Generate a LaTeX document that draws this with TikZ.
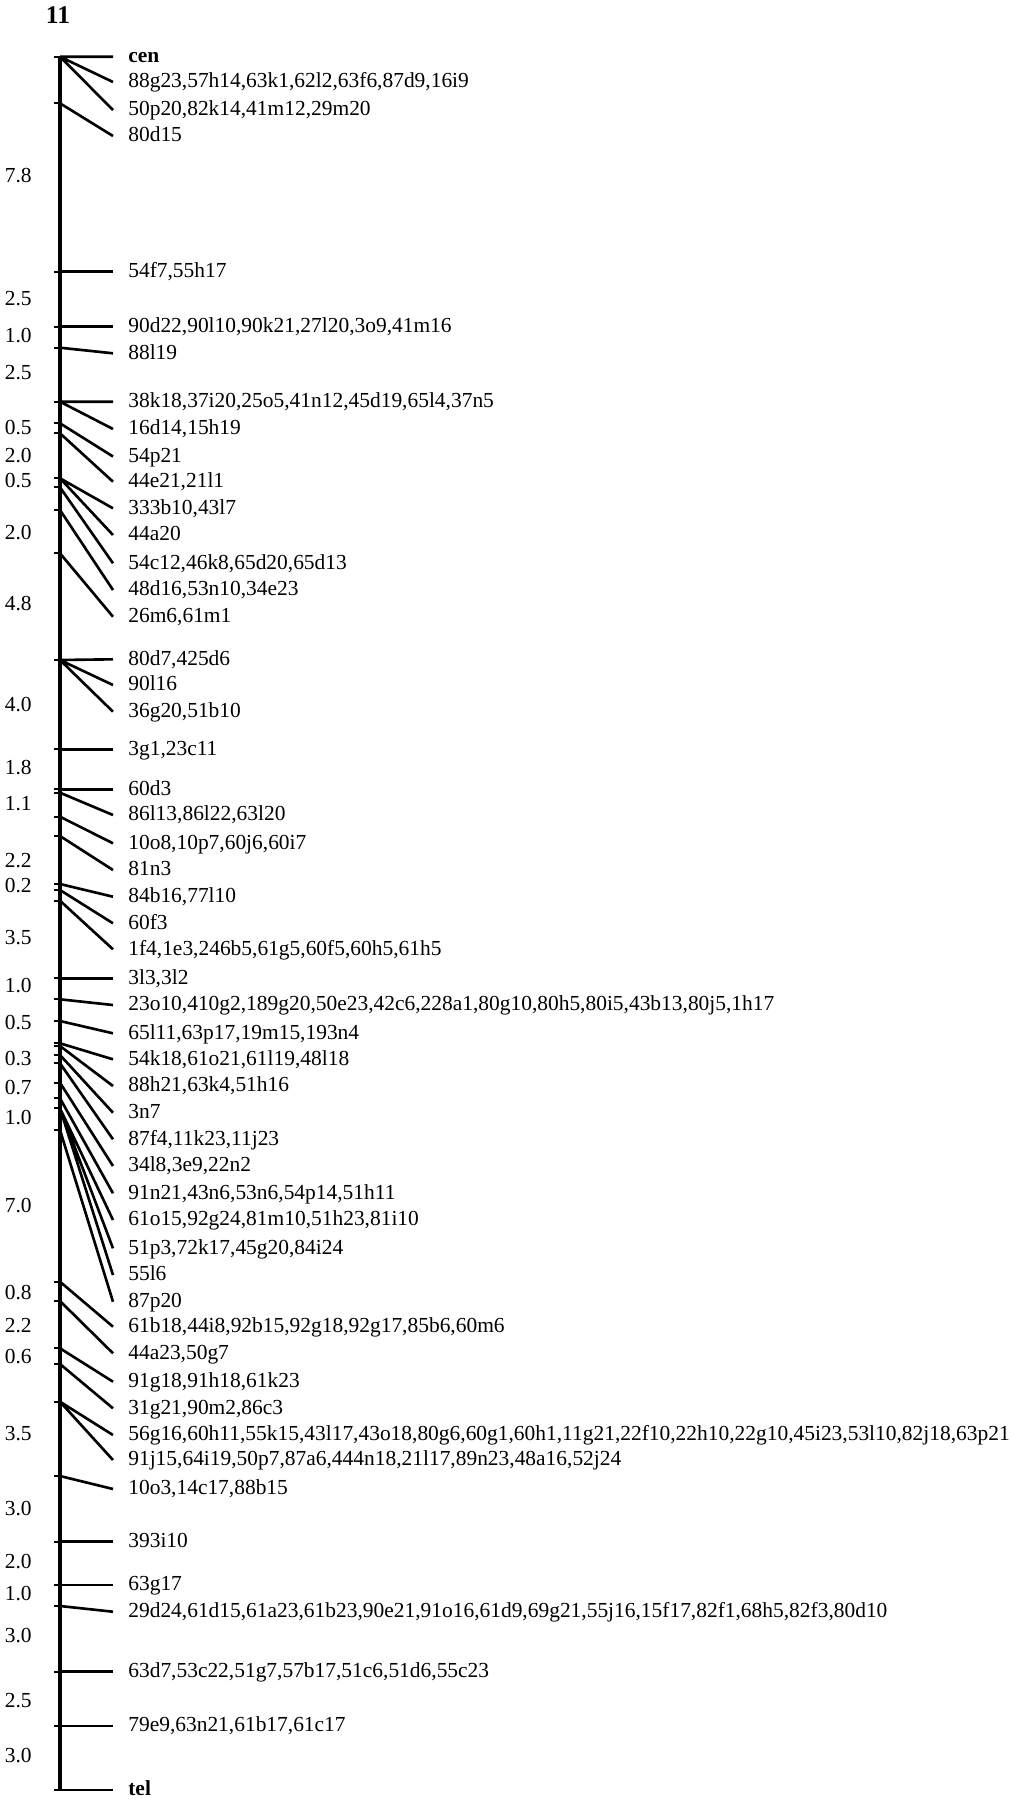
\documentclass[tikz,border=0pt]{standalone}
\usepackage{fontspec}
\setmainfont{Liberation Serif}
\newcommand{\mapfont}{\fontsize{12.2}{14}\selectfont}
\tikzset{
  every picture/.style={line join=round},
  locus/.style={anchor=west, inner xsep=0.3cm, inner ysep=0pt, text height=0.68em, text depth=0pt, font=\mapfont},
  dist/.style={anchor=east, inner sep=0pt, text height=0.68em, text depth=0pt, font=\mapfont},
  link/.style={line width=1.5pt},
  stub/.style={line width=1.2pt},
  chromo/.style={line width=2.4pt},
}

\begin{document}
\begin{tikzpicture}[x=0.02cm,y=-0.02cm]
\useasboundingbox (0,0) rectangle (1025,1800);
\node[font=\bfseries\fontsize{14.5}{16}\selectfont, inner sep=0pt] (chr) at (58,15) {11};
% marker positions on the chromosome
\coordinate (k1) at (60,56.7);
\coordinate (k2) at (60,103.3);
\coordinate (k3) at (60,271.7);
\coordinate (k4) at (60,326.7);
\coordinate (k5) at (60,347.7);
\coordinate (k6) at (60,401.7);
\coordinate (k7) at (60,423.3);
\coordinate (k8) at (60,433.3);
\coordinate (k9) at (60,478.3);
\coordinate (k10) at (60,487.3);
\coordinate (k11) at (60,510);
\coordinate (k12) at (60,553.3);
\coordinate (k13) at (60,660);
\coordinate (k14) at (60,749.3);
\coordinate (k15) at (60,789.3);
\coordinate (k16) at (60,792.7);
\coordinate (k17) at (60,816.7);
\coordinate (k18) at (60,836);
\coordinate (k19) at (60,884);
\coordinate (k20) at (60,890);
\coordinate (k21) at (60,900.7);
\coordinate (k22) at (60,978.3);
\coordinate (k23) at (60,999.3);
\coordinate (k24) at (60,1021);
\coordinate (k25) at (60,1043.3);
\coordinate (k26) at (60,1046);
\coordinate (k27) at (60,1055);
\coordinate (k28) at (60,1063.3);
\coordinate (k29) at (60,1082.7);
\coordinate (k30) at (60,1098.3);
\coordinate (k31) at (60,1108.3);
\coordinate (k32) at (60,1130);
\coordinate (k33) at (60,1281.7);
\coordinate (k34) at (60,1301);
\coordinate (k35) at (60,1348.3);
\coordinate (k36) at (60,1364);
\coordinate (k37) at (60,1401.7);
\coordinate (k38) at (60,1476);
\coordinate (k39) at (60,1541.7);
\coordinate (k40) at (60,1585);
\coordinate (k41) at (60,1606);
\coordinate (k42) at (60,1671.7);
\coordinate (k43) at (60,1726);
\coordinate (k44) at (60,1790);
\draw[chromo] (k1) -- (k44);
\foreach \k in {1,...,44} \draw[stub] (k\k) -- ++(-6,0);
% loci
\node[locus,font=\bfseries\mapfont] (cen) at (113,56.7) {cen};
\node[locus] (l88g23) at (113,82) {88g23,57h14,63k1,62l2,63f6,87d9,16i9};
\node[locus] (l50p20) at (113,110) {50p20,82k14,41m12,29m20};
\node[locus] (l80d15) at (113,136) {80d15};
\node[locus] (l54f7) at (113,271.7) {54f7,55h17};
\node[locus] (l90d22) at (113,326.7) {90d22,90l10,90k21,27l20,3o9,41m16};
\node[locus] (l88l19) at (113,353.3) {88l19};
\node[locus] (l38k18) at (113,401.7) {38k18,37i20,25o5,41n12,45d19,65l4,37n5};
\node[locus] (l16d14) at (113,429) {16d14,15h19};
\node[locus] (l54p21) at (113,456.5) {54p21};
\node[locus] (l44e21) at (113,481.7) {44e21,21l1};
\node[locus] (l333b10) at (113,508.3) {333b10,43l7};
\node[locus] (l44a20) at (113,535) {44a20};
\node[locus] (l54c12) at (113,563.3) {54c12,46k8,65d20,65d13};
\node[locus] (l48d16) at (113,590) {48d16,53n10,34e23};
\node[locus] (l26m6) at (113,616.7) {26m6,61m1};
\node[locus] (l80d7) at (113,659.3) {80d7,425d6};
\node[locus] (l90l16) at (113,685) {90l16};
\node[locus] (l36g20) at (113,711.7) {36g20,51b10};
\node[locus] (l3g1) at (113,749.3) {3g1,23c11};
\node[locus] (l60d3) at (113,789.3) {60d3};
\node[locus] (l86l13) at (113,815) {86l13,86l22,63l20};
\node[locus] (l10o8) at (113,843.3) {10o8,10p7,60j6,60i7};
\node[locus] (l81n3) at (113,870) {81n3};
\node[locus] (l84b16) at (113,896.7) {84b16,77l10};
\node[locus] (l60f3) at (113,923.3) {60f3};
\node[locus] (l1f4) at (113,949.3) {1f4,1e3,246b5,61g5,60f5,60h5,61h5};
\node[locus] (l3l3) at (113,978.3) {3l3,3l2};
\node[locus] (l23o10) at (113,1005) {23o10,410g2,189g20,50e23,42c6,228a1,80g10,80h5,80i5,43b13,80j5,1h17};
\node[locus] (l65l11) at (113,1033.3) {65l11,63p17,19m15,193n4};
\node[locus] (l54k18) at (113,1059.3) {54k18,61o21,61l19,48l18};
\node[locus] (l88h21) at (113,1086) {88h21,63k4,51h16};
\node[locus] (l3n7) at (113,1112.7) {3n7};
\node[locus] (l87f4) at (113,1139.3) {87f4,11k23,11j23};
\node[locus] (l34l8) at (113,1166) {34l8,3e9,22n2};
\node[locus] (l91n21) at (113,1193.3) {91n21,43n6,53n6,54p14,51h11};
\node[locus] (l61o15) at (113,1220) {61o15,92g24,81m10,51h23,81i10};
\node[locus] (l51p3) at (113,1248.3) {51p3,72k17,45g20,84i24};
\node[locus] (l55l6) at (113,1275) {55l6};
\node[locus] (l87p20) at (113,1301.7) {87p20};
\node[locus] (l61b18) at (113,1326.7) {61b18,44i8,92b15,92g18,92g17,85b6,60m6};
\node[locus] (l44a23) at (113,1353.3) {44a23,50g7};
\node[locus] (l91g18) at (113,1381.7) {91g18,91h18,61k23};
\node[locus] (l31g21) at (113,1408.3) {31g21,90m2,86c3};
\node[locus] (l56g16) at (113,1435) {56g16,60h11,55k15,43l17,43o18,80g6,60g1,60h1,11g21,22f10,22h10,22g10,45i23,53l10,82j18,63p21};
\node[locus] (l91j15) at (113,1460) {91j15,64i19,50p7,87a6,444n18,21l17,89n23,48a16,52j24};
\node[locus] (l10o3) at (113,1489) {10o3,14c17,88b15};
\node[locus] (l393i10) at (113,1541.7) {393i10};
\node[locus] (l63g17) at (113,1585) {63g17};
\node[locus] (l29d24) at (113,1611.7) {29d24,61d15,61a23,61b23,90e21,91o16,61d9,69g21,55j16,15f17,82f1,68h5,82f3,80d10};
\node[locus] (l63d7) at (113,1671.7) {63d7,53c22,51g7,57b17,51c6,51d6,55c23};
\node[locus] (l79e9) at (113,1726) {79e9,63n21,61b17,61c17};
\node[locus,font=\bfseries\mapfont] (tel) at (113,1790) {tel};
% links from markers to loci
\draw[link] (k1) -- (cen.west) (k1) -- (l88g23.west) (k1) -- (l50p20.west);
\draw[link] (k2) -- (l80d15.west);
\draw[link] (k3) -- (l54f7.west);
\draw[link] (k4) -- (l90d22.west);
\draw[link] (k5) -- (l88l19.west);
\draw[link] (k6) -- (l38k18.west) (k6) -- (l16d14.west);
\draw[link] (k7) -- (l54p21.west);
\draw[link] (k8) -- (l44e21.west);
\draw[link] (k9) -- (l333b10.west) (k9) -- (l44a20.west);
\draw[link] (k10) -- (l54c12.west);
\draw[link] (k11) -- (l48d16.west);
\draw[link] (k12) -- (l26m6.west);
\draw[link] (k13) -- (l80d7.west) (k13) -- (l90l16.west) (k13) -- (l36g20.west);
\draw[link] (k14) -- (l3g1.west);
\draw[link] (k15) -- (l60d3.west);
\draw[link] (k16) -- (l86l13.west);
\draw[link] (k17) -- (l10o8.west);
\draw[link] (k18) -- (l81n3.west);
\draw[link] (k19) -- (l84b16.west);
\draw[link] (k20) -- (l60f3.west);
\draw[link] (k21) -- (l1f4.west);
\draw[link] (k22) -- (l3l3.west);
\draw[link] (k23) -- (l23o10.west);
\draw[link] (k24) -- (l65l11.west);
\draw[link] (k25) -- (l54k18.west);
\draw[link] (k26) -- (l88h21.west);
\draw[link] (k27) -- (l3n7.west);
\draw[link] (k28) -- (l87f4.west);
\draw[link] (k29) -- (l34l8.west);
\draw[link] (k30) -- (l91n21.west);
\draw[link] (k31) -- (l61o15.west) (k31) -- (l51p3.west) (k31) -- (l55l6.west);
\draw[link] (k32) -- (l87p20.west);
\draw[link] (k33) -- (l61b18.west);
\draw[link] (k34) -- (l44a23.west);
\draw[link] (k35) -- (l91g18.west);
\draw[link] (k36) -- (l31g21.west);
\draw[link] (k37) -- (l56g16.west) (k37) -- (l91j15.west);
\draw[link] (k38) -- (l10o3.west);
\draw[link] (k39) -- (l393i10.west);
\draw[link] (k40) -- (l63g17.west);
\draw[link] (k41) -- (l29d24.west);
\draw[link] (k42) -- (l63d7.west);
\draw[link] (k43) -- (l79e9.west);
\draw[link] (k44) -- (tel.west);
% distances
\node[dist] (d1) at (32,176.7) {7.8};
\node[dist] (d2) at (32,300) {2.5};
\node[dist] (d3) at (32,336.7) {1.0};
\node[dist] (d4) at (32,373.3) {2.5};
\node[dist] (d5) at (32,428.3) {0.5};
\node[dist] (d6) at (32,456.7) {2.0};
\node[dist] (d7) at (32,481.7) {0.5};
\node[dist] (d8) at (32,533.3) {2.0};
\node[dist] (d9) at (32,605) {4.8};
\node[dist] (d10) at (32,706) {4.0};
\node[dist] (d11) at (32,768.3) {1.8};
\node[dist] (d12) at (32,805) {1.1};
\node[dist] (d13) at (32,861.7) {2.2};
\node[dist] (d14) at (32,886.7) {0.2};
\node[dist] (d15) at (32,938.3) {3.5};
\node[dist] (d16) at (32,986.7) {1.0};
\node[dist] (d17) at (32,1023.3) {0.5};
\node[dist] (d18) at (32,1060) {0.3};
\node[dist] (d19) at (32,1088.3) {0.7};
\node[dist] (d20) at (32,1118.3) {1.0};
\node[dist] (d21) at (32,1206.7) {7.0};
\node[dist] (d22) at (32,1293.3) {0.8};
\node[dist] (d23) at (32,1326.7) {2.2};
\node[dist] (d24) at (32,1357.7) {0.6};
\node[dist] (d25) at (32,1435) {3.5};
\node[dist] (d26) at (32,1509.3) {3.0};
\node[dist] (d27) at (32,1562.7) {2.0};
\node[dist] (d28) at (32,1595) {1.0};
\node[dist] (d29) at (32,1636.7) {3.0};
\node[dist] (d30) at (32,1701.7) {2.5};
\node[dist] (d31) at (32,1756.7) {3.0};
\end{tikzpicture}
\end{document}
